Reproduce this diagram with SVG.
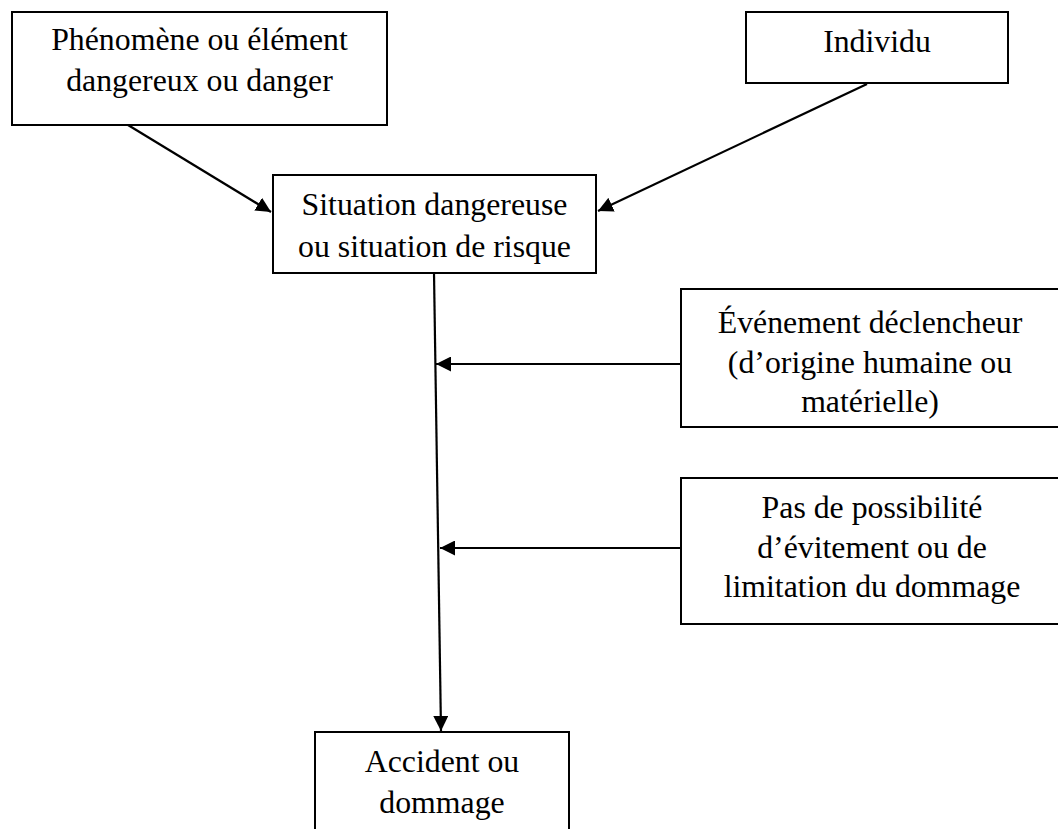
<svg xmlns="http://www.w3.org/2000/svg" width="1058" height="829" viewBox="0 0 1058 829">
  <style>
    .box { fill: #ffffff; stroke: #000000; stroke-width: 2; }
    .lbl { font-family: "Liberation Serif", "Times New Roman", serif; font-size: 31.8px; fill: #000000; text-anchor: middle; }
    .conn { stroke: #000000; stroke-width: 2.2; fill: none; marker-end: url(#arrow); }
  </style>
  <defs>
    <marker id="arrow" markerUnits="userSpaceOnUse" markerWidth="16" markerHeight="15" refX="15" refY="7.5" orient="auto">
      <path d="M0,0 L15,7.5 L0,15 z" fill="#000000"/>
    </marker>
  </defs>
  <rect width="1058" height="829" fill="#ffffff"/>

  <g id="connectors">
    <line class="conn" x1="128" y1="125" x2="271" y2="212"/>
    <line class="conn" x1="867" y1="84" x2="598" y2="211"/>
    <line class="conn" x1="434" y1="273" x2="441" y2="731"/>
    <line class="conn" x1="681" y1="364" x2="436" y2="364"/>
    <line class="conn" x1="681" y1="548" x2="440" y2="548"/>
  </g>

  <g id="node-phenomene">
    <rect class="box" x="12" y="12" width="375" height="113"/>
    <text class="lbl" x="199.5" y="50">Phénomène ou élément</text>
    <text class="lbl" x="199.5" y="91">dangereux ou danger</text>
  </g>

  <g id="node-individu">
    <rect class="box" x="746" y="12" width="262" height="71"/>
    <text class="lbl" x="877" y="52">Individu</text>
  </g>

  <g id="node-situation">
    <rect class="box" x="273" y="175" width="323" height="98"/>
    <text class="lbl" x="434.5" y="215">Situation dangereuse</text>
    <text class="lbl" x="434.5" y="257">ou situation de risque</text>
  </g>

  <g id="node-evenement">
    <rect class="box" x="681" y="289" width="390" height="138"/>
    <text class="lbl" x="870" y="333">Événement déclencheur</text>
    <text class="lbl" x="870" y="373">(d’origine humaine ou</text>
    <text class="lbl" x="870" y="412">matérielle)</text>
  </g>

  <g id="node-possibilite">
    <rect class="box" x="681" y="478" width="390" height="146"/>
    <text class="lbl" x="872" y="518">Pas de possibilité</text>
    <text class="lbl" x="872" y="558">d’évitement ou de</text>
    <text class="lbl" x="872" y="597">limitation du dommage</text>
  </g>

  <g id="node-accident">
    <rect class="box" x="315" y="732" width="254" height="110"/>
    <text class="lbl" x="442" y="772">Accident ou</text>
    <text class="lbl" x="442" y="813">dommage</text>
  </g>
</svg>
